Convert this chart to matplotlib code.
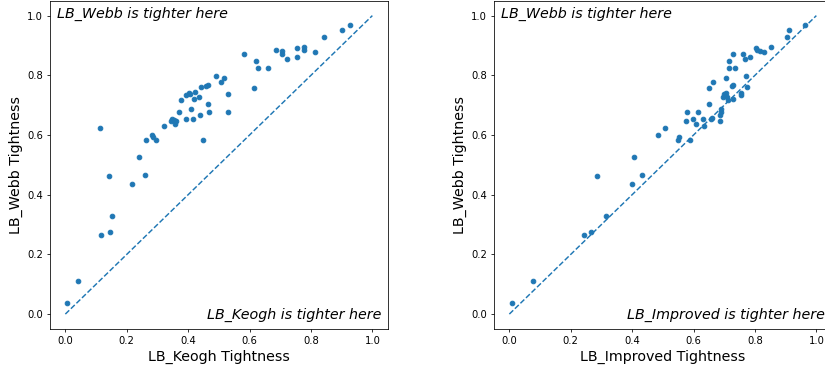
import matplotlib

matplotlib.use("Agg")
import matplotlib.pyplot as plt

# LB_Keogh vs LB_Webb tightness (left panel)
keogh_x = [
    0.112, 0.143, 0.239, 0.258, 0.262, 0.281, 0.287, 0.294, 0.320, 0.344,
    0.348, 0.355, 0.358, 0.361, 0.370, 0.378, 0.392, 0.392, 0.402, 0.405,
    0.408, 0.418, 0.417, 0.421, 0.436, 0.437, 0.442, 0.448, 0.458, 0.465,
    0.466, 0.467, 0.490, 0.507, 0.518, 0.530, 0.529, 0.583, 0.613, 0.621,
    0.626, 0.659, 0.686, 0.707, 0.707, 0.721, 0.753, 0.753, 0.777, 0.777,
    0.813, 0.842, 0.901, 0.927, 0.218, 0.151, 0.147, 0.116, 0.040, 0.005,
]
webb_left = [
    0.625, 0.464, 0.526, 0.466, 0.584, 0.601, 0.594, 0.583, 0.631, 0.647,
    0.654, 0.649, 0.638, 0.647, 0.678, 0.716, 0.652, 0.735, 0.740, 0.736,
    0.688, 0.720, 0.652, 0.744, 0.727, 0.668, 0.761, 0.582, 0.763, 0.705,
    0.766, 0.678, 0.797, 0.776, 0.792, 0.736, 0.677, 0.870, 0.757, 0.848,
    0.825, 0.824, 0.884, 0.883, 0.871, 0.854, 0.890, 0.861, 0.894, 0.885,
    0.878, 0.929, 0.952, 0.969, 0.437, 0.328, 0.276, 0.265, 0.111, 0.038,
]

# LB_Improved vs LB_Webb tightness (right panel)
improved_x = [
    0.284, 0.407, 0.432, 0.484, 0.507, 0.548, 0.552, 0.589, 0.576, 0.578,
    0.598, 0.607, 0.613, 0.630, 0.635, 0.649, 0.650, 0.657, 0.661, 0.663,
    0.686, 0.686, 0.689, 0.690, 0.697, 0.700, 0.705, 0.707, 0.709, 0.712,
    0.715, 0.716, 0.726, 0.727, 0.729, 0.729, 0.736, 0.753, 0.754, 0.762,
    0.768, 0.770, 0.774, 0.785, 0.804, 0.808, 0.816, 0.828, 0.852, 0.905,
    0.912, 0.963, 0.315, 0.265, 0.242, 0.401, 0.077, 0.008,
]
webb_right = [
    0.464, 0.526, 0.466, 0.601, 0.625, 0.584, 0.594, 0.583, 0.648, 0.677,
    0.653, 0.638, 0.677, 0.652, 0.631, 0.705, 0.757, 0.653, 0.658, 0.776,
    0.648, 0.668, 0.678, 0.688, 0.729, 0.736, 0.740, 0.792, 0.729, 0.716,
    0.825, 0.848, 0.763, 0.767, 0.870, 0.720, 0.824, 0.742, 0.735, 0.871,
    0.854, 0.797, 0.761, 0.861, 0.890, 0.885, 0.883, 0.877, 0.894, 0.929,
    0.952, 0.969, 0.328, 0.276, 0.265, 0.437, 0.111, 0.038,
]

panels = [
    (keogh_x, webb_left, "LB_Keogh"),
    (improved_x, webb_right, "LB_Improved"),
]

dpi = 70
fig = plt.figure(figsize=(825 / dpi, 368 / dpi), dpi=dpi)
ax_w = 337.7 / 825
ax_h = 328.3 / 368
ax_bottom = 39 / 368
lefts = [50 / 825, 494 / 825]

for left, (xs, ys, name) in zip(lefts, panels):
    ax = fig.add_axes([left, ax_bottom, ax_w, ax_h])
    ax.scatter(xs, ys, s=23, color="C0", zorder=3)
    ax.plot([0, 1], [0, 1], "--", color="C0", linewidth=1.5)
    ax.set_xlabel(f"{name} Tightness", fontsize=14.7)
    ax.set_ylabel("LB_Webb Tightness", fontsize=14.7)
    ax.tick_params(labelsize=10.3)
    ax.text(0.02, 0.98, "LB_Webb is tighter here", transform=ax.transAxes,
            ha="left", va="top", fontsize=14.7, style="italic")
    ax.text(0.98, 0.02, f"{name} is tighter here", transform=ax.transAxes,
            ha="right", va="bottom", fontsize=14.7, style="italic")
    ax.set_xlim(-0.05, 1.05)
    ax.set_ylim(-0.05, 1.05)

fig.savefig("out.png", dpi=dpi)
